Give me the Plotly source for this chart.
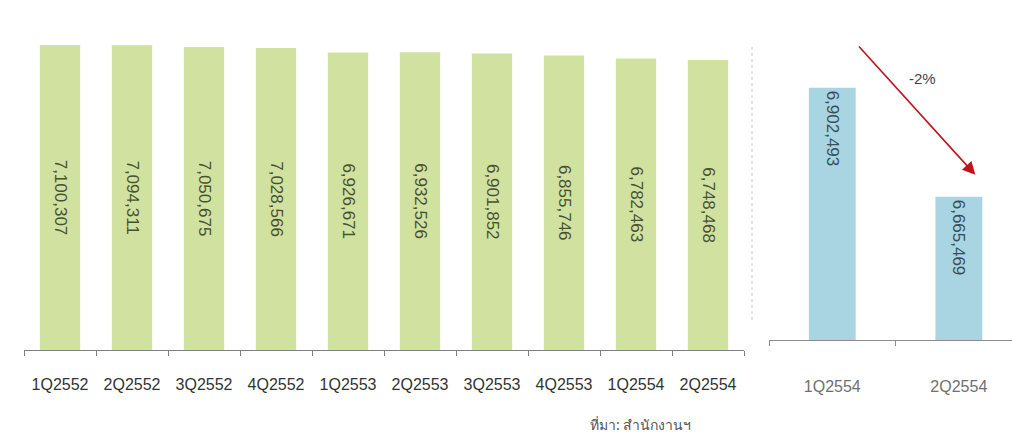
import plotly.graph_objects as go

# ---- data ----
quarters_left = ["1Q2552", "2Q2552", "3Q2552", "4Q2552", "1Q2553",
                 "2Q2553", "3Q2553", "4Q2553", "1Q2554", "2Q2554"]
values_left = [7100307, 7094311, 7050675, 7028566, 6926671,
               6932526, 6901852, 6855746, 6782463, 6748468]

quarters_right = ["1Q2554", "2Q2554"]
values_right = [6902493, 6665469]

change_label = "-2%"
source_text = "ที่มา: สำนักงานฯ"

W, H = 1012, 434

def fmt(v):
    return f"{v:,}"

fig = go.Figure()

fig.add_trace(go.Bar(
    x=quarters_left, y=values_left, xaxis="x", yaxis="y",
    marker=dict(color="#d0e1a0", line=dict(width=0)),
    width=0.56,
    text=[fmt(v) for v in values_left],
    textposition="inside", insidetextanchor="middle", textangle=90,
    textfont=dict(family="Liberation Sans, Arial", size=17, color="#485231"),
    showlegend=False, hoverinfo="x+y",
))

fig.add_trace(go.Bar(
    x=quarters_right, y=values_right, xaxis="x2", yaxis="y2",
    marker=dict(color="#a9d4e2", line=dict(width=0)),
    width=0.37,
    text=[fmt(v) for v in values_right],
    textposition="inside", insidetextanchor="end", textangle=90,
    textfont=dict(family="Liberation Sans, Arial", size=17, color="#34505c"),
    showlegend=False, hoverinfo="x+y",
))

def px_x(p):
    return p / W

def px_y(p):
    return 1 - p / H

fig.update_layout(
    width=W, height=H,
    margin=dict(l=0, r=0, t=0, b=0),
    paper_bgcolor="white", plot_bgcolor="white",
    xaxis=dict(
        domain=[px_x(24), px_x(744)], anchor="y",
        type="category", range=[-0.5, 9.5],
        showgrid=False, showline=True, linecolor="#7f7f7f", linewidth=1,
        ticks="outside", tickson="boundaries", ticklen=5, tickcolor="#7f7f7f",
        tickfont=dict(family="Liberation Sans, Arial", size=16, color="#333333"),
        ticklabelstandoff=20,
    ),
    yaxis=dict(
        domain=[px_y(350), px_y(40)], anchor="x",
        range=[0, 7216000], visible=False, showgrid=False, zeroline=False,
    ),
    xaxis2=dict(
        domain=[px_x(769), 1.0], anchor="y2",
        type="category", range=[-0.5, 1.42],
        showgrid=False, showline=True, linecolor="#8c8c8c", linewidth=1,
        ticks="outside", tickson="boundaries", ticklen=5, tickcolor="#8c8c8c",
        tickfont=dict(family="Liberation Sans, Arial", size=16, color="#707070"),
        ticklabelstandoff=32,
    ),
    yaxis2=dict(
        domain=[px_y(340), px_y(40)], anchor="x2",
        range=[6354000, 7006000], visible=False, showgrid=False, zeroline=False,
    ),
)

# separator dotted line (right panel's faint axis)
fig.add_shape(type="line", xref="paper", yref="paper",
              x0=px_x(752), x1=px_x(752), y0=px_y(320), y1=px_y(45),
              line=dict(color="#c8c8c8", width=1, dash="dot"))

# arrow showing decline
fig.add_annotation(
    xref="x2", yref="y2", axref="x2", ayref="y2",
    x=1.13, y=6713000, ax=0.2, ay=6995000,
    text="", showarrow=True, arrowhead=2, arrowsize=1.6,
    arrowwidth=1.6, arrowcolor="#c0141c",
)
fig.add_annotation(
    xref="paper", yref="paper", x=px_x(922), y=px_y(79),
    xanchor="center", yanchor="middle",
    text=change_label, showarrow=False,
    font=dict(family="Liberation Sans, Arial", size=15, color="#444444"),
)

# source note
fig.add_annotation(
    xref="paper", yref="paper", x=px_x(640), y=px_y(424),
    xanchor="center", yanchor="middle",
    text=source_text, showarrow=False,
    font=dict(family="Noto Sans, DejaVu Sans, sans-serif", size=14, color="#555555"),
)

fig.write_html("out.html")
